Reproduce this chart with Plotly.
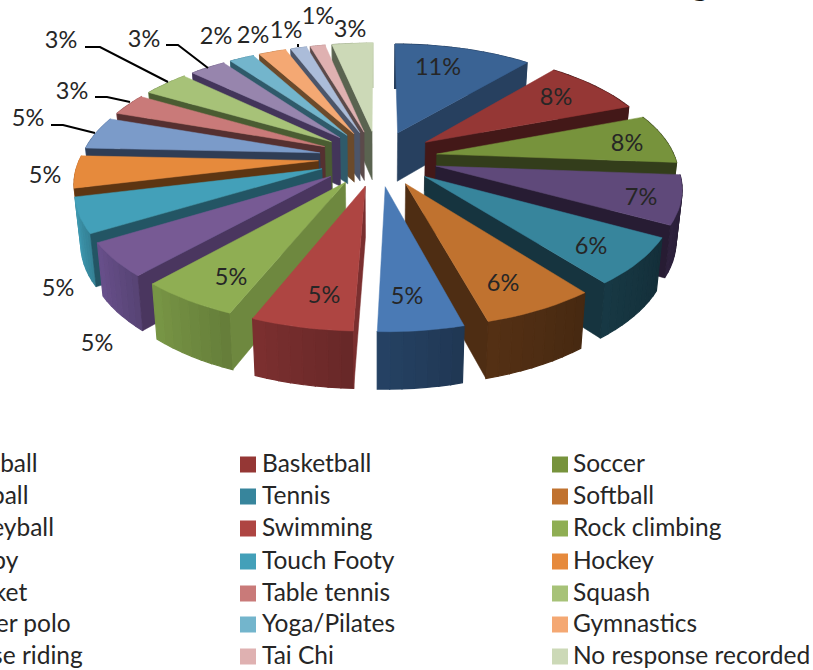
import math
import plotly.graph_objects as go

# ---- data ----
categories = ["Football", "Basketball", "Soccer", "Netball", "Tennis", "Softball",
              "Volleyball", "Swimming", "Rock climbing", "Rugby", "Touch Footy", "Hockey",
              "Cricket", "Table tennis", "Squash", "Water polo", "Yoga/Pilates", "Gymnastics",
              "Horse riding", "Tai Chi", "No response recorded"]
shares = [11.1, 8.1, 7.0, 6.8, 6.5, 6.3, 4.7, 5.6, 5.5, 4.7, 4.9, 4.5,
          4.6, 3.1, 3.7, 2.9, 2.0, 2.2, 1.3, 1.2, 3.3]
percent_labels = ["11%", "8%", "8%", "7%", "6%", "6%", "5%", "5%", "5%", "5%", "5%", "5%",
                  "5%", "3%", "3%", "3%", "2%", "2%", "1%", "1%", "3%"]

# ---- styles ----
top_colors = ["#3a6394", "#953735", "#77933c", "#5f497a", "#37859c", "#c0722f", "#4a7ab5",
              "#ae4542", "#8fae53", "#775a94", "#43a0b9", "#e68a3c", "#7b9bc9", "#c97a79",
              "#a7c278", "#9785ad", "#73b5cc", "#f4a873", "#abbcd9", "#dfb1b1", "#ccd9b7"]
radial_colors = ["#27405f", "#431818", "#333d1b", "#271c33", "#16343f", "#4e2d13", "#233d5c",
                 "#7a2f2f", "#6e883f", "#4a365f", "#235564", "#5d3512", "#2f3d55", "#553030",
                 "#4a5c32", "#43355a", "#2f5a6a", "#6b4a2b", "#4c5569", "#5b4a4a", "#5a6350"]
outer_colors = ["#27405f", "#431818", "#333d1b", "#2b2039", "#16343f", "#4e2d13", "#233d5c",
                "#722c2c", "#6f8a40", "#604a80", "#3a8ea4", "#c07030", "#5f7ca5", "#a06060",
                "#88a060", "#7a6a90", "#5a95aa", "#c88a5a", "#8a9ab5", "#b89090", "#a8b595"]
TEXT = "#262626"
FONT = "Lato"

# pie projection
CX, CY, A, B, K = 378, 158, 298, 138.5, 0.204
EXPLODE, R = 0.2, 0.8


def project(X, Y):
    s = 1 / (1 - K * Y)
    return CX + A * X * s, CY + B * Y * s, s


def top_pt(X, Y):
    x, y, _ = project(X, Y)
    return x, y


def bot_pt(X, Y):
    x, y, s = project(X, Y)
    return CX + (x - CX) * 0.98, y + 18.5 + 31 * s


def hex_scale(c, f):
    r, g, b = int(c[1:3], 16), int(c[3:5], 16), int(c[5:7], 16)
    return "#%02x%02x%02x" % tuple(min(255, int(v * f)) for v in (r, g, b))


fig = go.Figure()


def poly(pts, color, lw=0.5):
    xs = [p[0] for p in pts] + [pts[0][0]]
    ys = [p[1] for p in pts] + [pts[0][1]]
    fig.add_trace(go.Scatter(x=xs, y=ys, mode="lines", fill="toself", fillcolor=color,
                             line=dict(color=color, width=lw), hoverinfo="skip",
                             showlegend=False))


total = sum(shares)
slices = []
acc = 0.0
for i, v in enumerate(shares):
    a0 = acc / total * 2 * math.pi
    acc += v
    a1 = acc / total * 2 * math.pi
    mid = (a0 + a1) / 2
    slices.append((i, a0, a1, EXPLODE * math.sin(mid), -EXPLODE * math.cos(mid)))

for i, a0, a1, ax, ay in sorted(slices, key=lambda t: t[4]):
    n = max(6, int((a1 - a0) / 0.04))
    arc = [(ax + R * math.sin(a0 + (a1 - a0) * j / n), ay - R * math.cos(a0 + (a1 - a0) * j / n))
           for j in range(n + 1)]
    # outer wall, bands going a little darker towards the right of the page
    for j in range(n):
        f = 0.92 + 0.16 * j / max(1, n - 1)
        poly([top_pt(*arc[j]), top_pt(*arc[j + 1]), bot_pt(*arc[j + 1]), bot_pt(*arc[j])],
             hex_scale(outer_colors[i], f), lw=1.2)
    # only the radial wall that faces the viewer
    if a0 > math.pi:
        poly([top_pt(ax, ay), top_pt(*arc[0]), bot_pt(*arc[0]), bot_pt(ax, ay)], radial_colors[i])
    if a1 < math.pi:
        poly([top_pt(ax, ay), top_pt(*arc[-1]), bot_pt(*arc[-1]), bot_pt(ax, ay)], radial_colors[i])
    poly([top_pt(ax, ay)] + [top_pt(*p) for p in arc], top_colors[i])

# data labels (page placement, same order as categories)
label_x = [438, 556, 627, 641, 591, 503, 407, 324, 231, 97, 58, 45, 28, 72, 61, 144, 216, 253, 286, 318, 350]
label_y = [69, 99, 145, 199, 248, 285, 298, 297, 279, 345, 290, 177, 120, 93, 42, 41, 38, 37, 32, 18, 31]
fig.add_trace(go.Scatter(x=label_x, y=label_y, mode="text", text=percent_labels,
                         textposition="middle center", hoverinfo="skip", showlegend=False,
                         textfont=dict(family=FONT, size=23.5, color=TEXT)))

# leader lines
leaders = [[(51, 125), (63, 125), (95, 133)], [(95, 97), (107, 97), (130, 102)],
           [(85, 47), (100, 47), (168, 82)], [(166, 45), (178, 45), (208, 68)],
           [(298, 44), (298, 47)]]
for path in leaders:
    fig.add_trace(go.Scatter(x=[p[0] for p in path], y=[p[1] for p in path], mode="lines",
                             line=dict(color="#000000", width=2), hoverinfo="skip",
                             showlegend=False))

# legend, drawn as three columns that run off the left of the page
col_swatch = [-71, 248, 560]
col_text = [-49, 262, 573]
row_y = [464, 496, 528, 561, 593, 624, 656]
sw_x, sw_y, sw_c, tx, ty = [], [], [], [], []
for i, name in enumerate(categories):
    r, c = i // 3, i % 3
    sw_x.append(col_swatch[c])
    sw_y.append(row_y[r] + 0.5)
    sw_c.append(top_colors[i])
    tx.append(col_text[c])
    ty.append(row_y[r] + 2)
fig.add_trace(go.Scatter(x=sw_x, y=sw_y, mode="markers", hoverinfo="skip", showlegend=False,
                         marker=dict(symbol="square", size=16, color=sw_c, line=dict(width=0))))
fig.add_trace(go.Scatter(x=tx, y=ty, mode="text", text=categories, textposition="middle right",
                         hoverinfo="skip", showlegend=False,
                         textfont=dict(family=FONT, size=24.5, color=TEXT)))

# tail of the cropped title
fig.add_trace(go.Scatter(x=[700], y=[-14], mode="text", text=["<b>g</b>"], hoverinfo="skip",
                         showlegend=False, textposition="middle center",
                         textfont=dict(family=FONT, size=36, color="#111111")))

fig.update_layout(width=813, height=670, margin=dict(l=0, r=0, t=0, b=0),
                  paper_bgcolor="white", plot_bgcolor="white", showlegend=False,
                  xaxis=dict(range=[0, 813], visible=False, fixedrange=True),
                  yaxis=dict(range=[670, 0], visible=False, fixedrange=True))
fig.write_html("out.html", config={"displayModeBar": False},
               post_script="document.body.style.margin='0';")
